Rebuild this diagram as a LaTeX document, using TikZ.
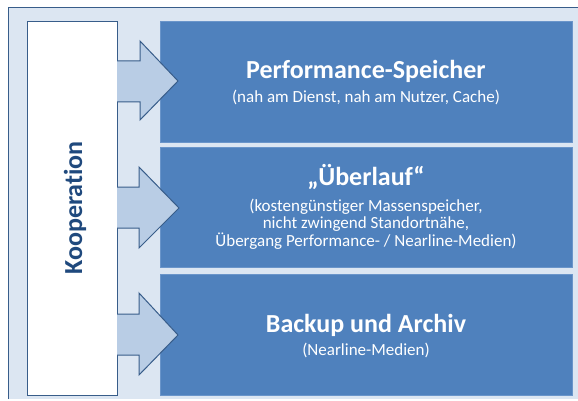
\documentclass[tikz,border=0pt]{standalone}
\usepackage{fontspec}
\setmainfont[Ligatures=NoCommon]{Carlito}
\definecolor{bgblue}{HTML}{DCE6F2}
\definecolor{frameblue}{HTML}{385D8A}
\definecolor{boxblue}{HTML}{4F81BD}
\definecolor{boxedge}{HTML}{6A95CA}
\definecolor{arrowfill}{HTML}{B9CDE5}
\definecolor{textdark}{HTML}{1F497D}
\begin{document}
\begin{tikzpicture}[x=1pt,y=-1pt,
  layer/.style={fill=boxblue,draw=boxedge,line width=0.8pt},
  bigarrow/.style={fill=arrowfill,draw=frameblue,line width=1pt,line join=miter},
  title/.style={text=white,font=\fontsize{26}{30}\selectfont\bfseries,anchor=base,inner sep=0pt},
  sub/.style={text=white,font=\fontsize{17}{20}\selectfont,anchor=base,inner sep=0pt}]
\useasboundingbox (0,0) rectangle (578,401);
% outer frame
\fill[bgblue] (8,8) rectangle (580,399);
\draw[frameblue,line width=1pt] (8,399) -- (8,8) -- (580,8);
% cooperation box
\draw[fill=white,draw=frameblue,line width=1pt] (27,22) rectangle (117,395);
\node[rotate=90,anchor=base,inner sep=0pt,text=textdark,font=\fontsize{26}{30}\selectfont\bfseries] (koop) at (82,208) {Kooperation};
% layer boxes
\draw[layer] (160,21) rectangle (572,142);
\draw[layer] (160,147) rectangle (572,267);
\draw[layer] (160,274) rectangle (572,395);
% arrows
\draw[bigarrow] (117,61) -- (140,61) -- (140,41) -- (178,81) -- (140,120) -- (140,102) -- (117,102);
\draw[bigarrow] (117,187) -- (139,187) -- (139,167) -- (179,208) -- (139,248) -- (139,228) -- (117,228);
\draw[bigarrow] (117,314) -- (139,314) -- (139,293) -- (178,335) -- (139,375) -- (139,355) -- (117,355);
% texts
\node[title] (t1) at (366,79) {Performance-Speicher};
\node[sub] (s1) at (366,103) {(nah am Dienst, nah am Nutzer, Cache)};
\node[title] (t2) at (366,185) {„Überlauf“};
\node[sub] (s2a) at (366,211) {(kostengünstiger Massenspeicher,};
\node[sub] (s2b) at (366,228.5) {nicht zwingend Standortnähe,};
\node[sub] (s2c) at (366,246) {Übergang Performance- / Nearline-Medien)};
\node[title] (t3) at (366,332) {Backup und Archiv};
\node[sub] (s3) at (366,355) {(Nearline-Medien)};
\end{tikzpicture}
\end{document}
